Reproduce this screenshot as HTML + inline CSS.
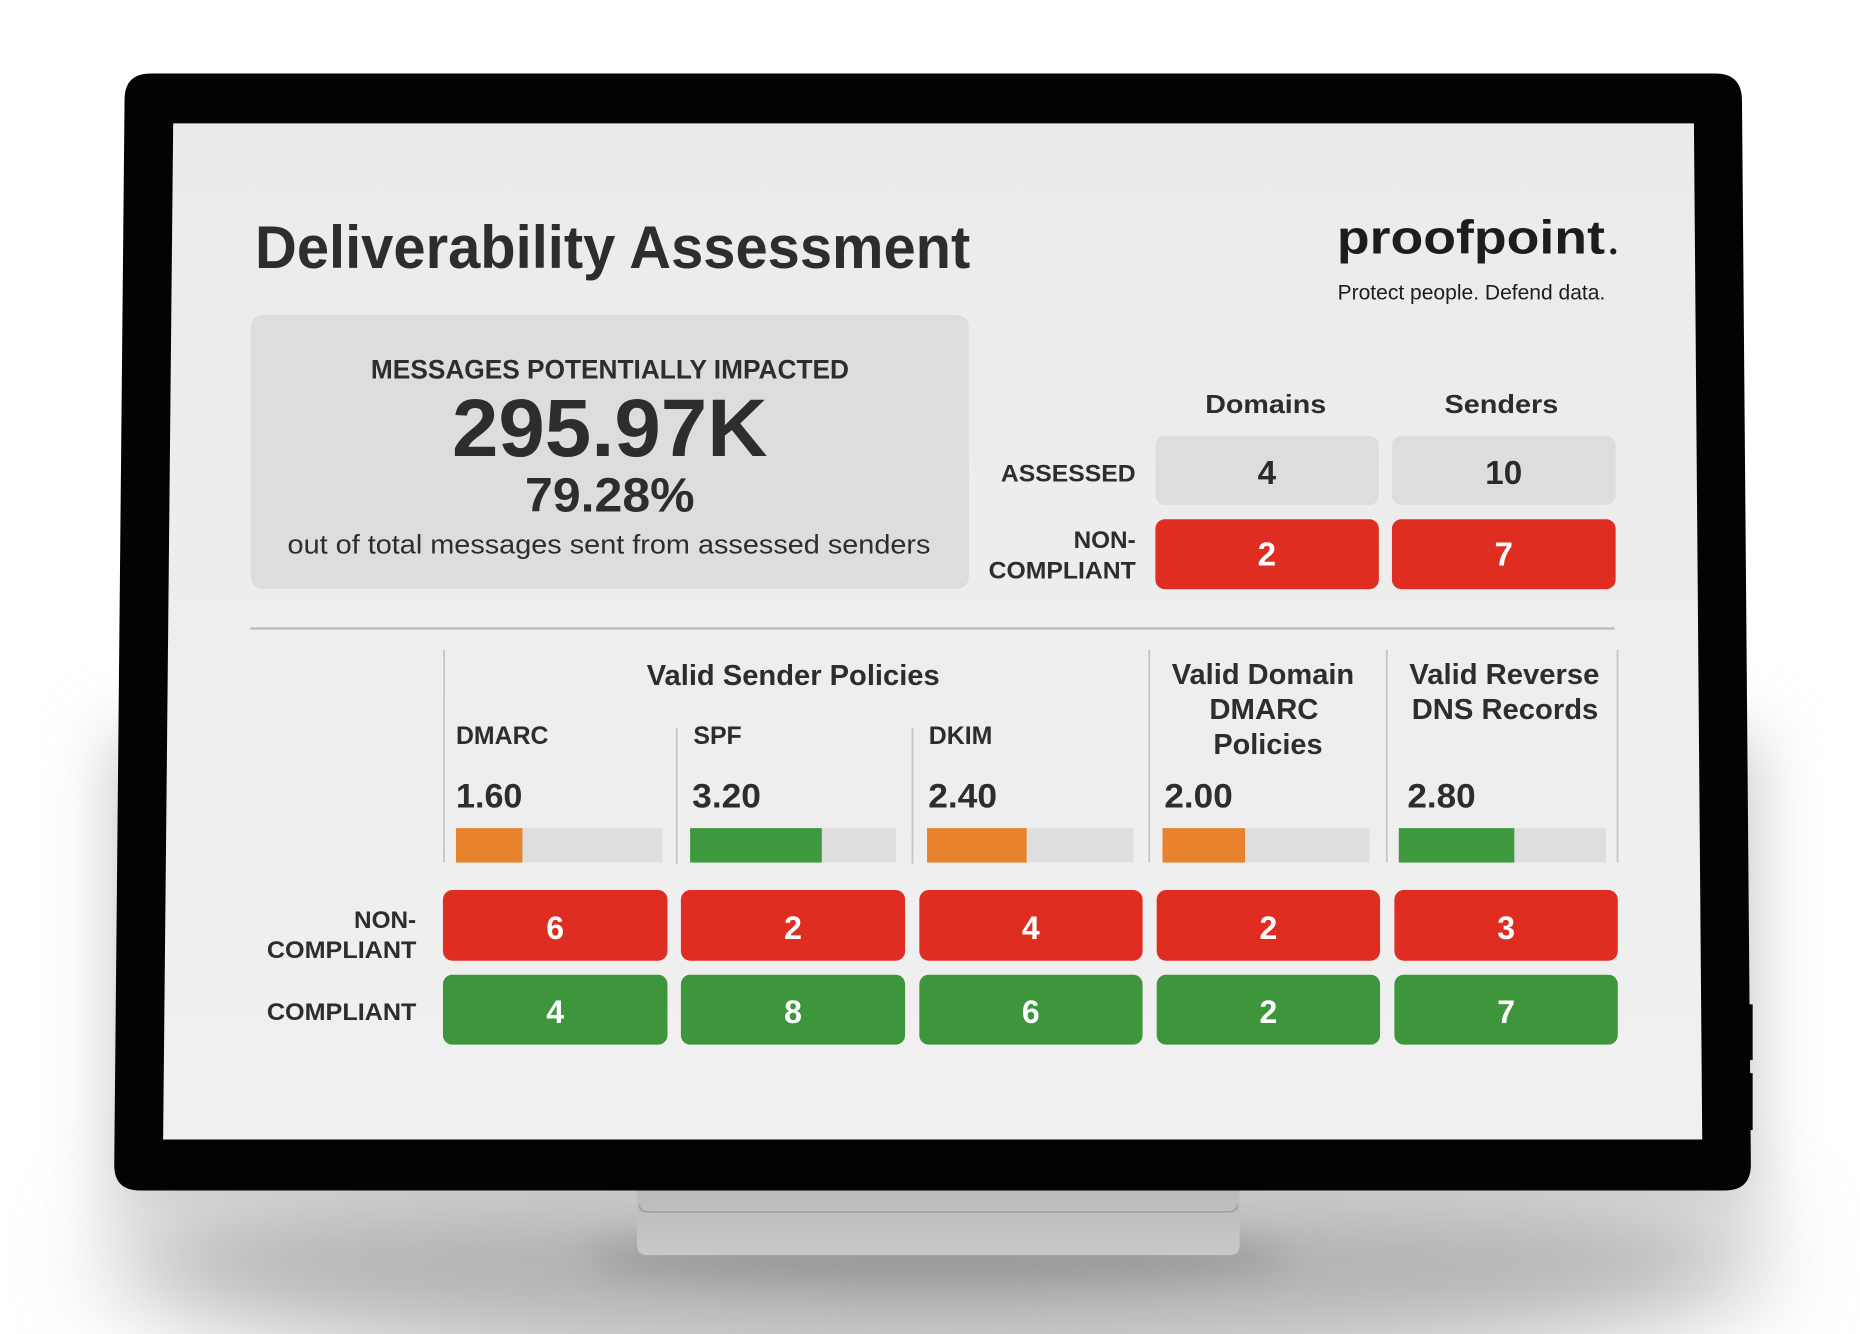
<!DOCTYPE html>
<html><head><meta charset="utf-8">
<style>
html,body{margin:0;padding:0;background:#fff;}
svg{display:block;}
text{font-family:"Liberation Sans",Arial,sans-serif;}
.b{font-weight:bold;}
</style></head><body>
<svg width="1860" height="1334" viewBox="0 0 1568 1125" preserveAspectRatio="none" xmlns="http://www.w3.org/2000/svg">
<defs>
<filter id="b1" x="-50%" y="-100%" width="200%" height="300%"><feGaussianBlur stdDeviation="40"/></filter>
<filter id="b2" x="-30%" y="-30%" width="160%" height="160%"><feGaussianBlur stdDeviation="28"/></filter>
<filter id="b3" x="-30%" y="-100%" width="160%" height="300%"><feGaussianBlur stdDeviation="14"/></filter>
<linearGradient id="stand" x1="0" y1="0" x2="0" y2="1"><stop offset="0" stop-color="#b8b9ba"/><stop offset="1" stop-color="#c7c8c9"/></linearGradient>
<linearGradient id="scr" x1="0" y1="0" x2="0" y2="1"><stop offset="0" stop-color="#ebebeb"/><stop offset="1" stop-color="#f0f0f0"/></linearGradient>
</defs>
<rect width="1568" height="1125" fill="#fff"/>
<!-- shadows -->
<ellipse cx="790" cy="1060" rx="700" ry="95" fill="#b4b4b4" filter="url(#b1)"/>
<rect x="95" y="620" width="1385" height="400" fill="#c9c9c9" filter="url(#b2)"/>
<ellipse cx="790" cy="1062" rx="300" ry="22" fill="#9a9a9a" filter="url(#b3)"/>
<!-- stand -->
<path d="M537 998 H1045 V1050 Q1045 1058.5 1036 1058.5 H546 Q537 1058.5 537 1050 Z" fill="url(#stand)"/>
<path d="M539 1016 Q539 1022 547 1022 H1035 Q1043 1022 1043 1016" fill="none" stroke="#9d9d9d" stroke-width="1.3"/>
<!-- bezel -->
<path d="M127 62 H1446 Q1468 62 1468.5 84 L1476 982 Q1476 1004 1454 1004 H118 Q96 1004 96.3 982 L105 84 Q105 62 127 62 Z" fill="#030303"/>
<rect x="1474" y="847" width="3.5" height="47" fill="#030303"/>
<rect x="1474" y="905" width="3.5" height="48" fill="#030303"/>
<!-- screen -->
<polygon points="146,104 1428,104 1435,961 137.5,961" fill="url(#scr)"/>

<!-- title -->
<text class="b" x="215" y="226" font-size="51" fill="#2d2d2d" textLength="603" lengthAdjust="spacingAndGlyphs">Deliverability Assessment</text>
<!-- logo -->
<text class="b" x="1127" y="214" font-size="40" fill="#1f1c1d" textLength="226" lengthAdjust="spacingAndGlyphs">proofpoint</text>
<circle cx="1360" cy="212" r="2.6" fill="#1f1c1d"/>
<text x="1127.6" y="252.4" font-size="18" fill="#1f1c1d" textLength="225.7" lengthAdjust="spacingAndGlyphs">Protect people. Defend data.</text>

<!-- impacted box -->
<rect x="211.4" y="265.6" width="605.3" height="231.1" rx="10" fill="#dddddd"/>
<text class="b" x="312.7" y="319" font-size="22.5" fill="#2d2d2d" textLength="403" lengthAdjust="spacingAndGlyphs">MESSAGES POTENTIALLY IMPACTED</text>
<text class="b" x="381" y="384.5" font-size="69" fill="#2d2d2d" textLength="266" lengthAdjust="spacingAndGlyphs">295.97K</text>
<text class="b" x="442.6" y="431.4" font-size="41" fill="#2d2d2d" textLength="143" lengthAdjust="spacingAndGlyphs">79.28%</text>
<text x="242.4" y="466.6" font-size="23" fill="#2d2d2d" textLength="542" lengthAdjust="spacingAndGlyphs">out of total messages sent from assessed senders</text>

<!-- right table -->
<text class="b" x="1016" y="348.5" font-size="22" fill="#2d2d2d" textLength="102" lengthAdjust="spacingAndGlyphs">Domains</text>
<text class="b" x="1217.7" y="348.5" font-size="22" fill="#2d2d2d" textLength="96" lengthAdjust="spacingAndGlyphs">Senders</text>
<text class="b" x="843.8" y="406" font-size="20.5" fill="#2d2d2d" textLength="113.6" lengthAdjust="spacingAndGlyphs">ASSESSED</text>
<text class="b" x="957.4" y="462.3" font-size="20.5" fill="#2d2d2d" text-anchor="end">NON-</text>
<text class="b" x="833.4" y="487.7" font-size="20.5" fill="#2d2d2d" textLength="124" lengthAdjust="spacingAndGlyphs">COMPLIANT</text>
<rect x="974" y="367.6" width="188.4" height="58.2" rx="8" fill="#dddddd"/>
<rect x="1173.4" y="367.6" width="188.6" height="58.2" rx="8" fill="#dddddd"/>
<rect x="974" y="437.9" width="188.4" height="59" rx="8" fill="#e02d22"/>
<rect x="1173.4" y="437.9" width="188.6" height="59" rx="8" fill="#e02d22"/>
<text class="b" x="1068" y="408" font-size="28" fill="#2b2b2b" text-anchor="middle">4</text>
<text class="b" x="1267.7" y="408" font-size="28" fill="#2b2b2b" text-anchor="middle">10</text>
<text class="b" x="1068" y="477" font-size="28" fill="#ffffff" text-anchor="middle">2</text>
<text class="b" x="1267.7" y="477" font-size="28" fill="#ffffff" text-anchor="middle">7</text>

<!-- rule -->
<line x1="211" y1="530" x2="1361" y2="530" stroke="#bdbdbd" stroke-width="2"/>

<!-- dividers -->
<g stroke="#c6c6c6" stroke-width="1.5">
<line x1="374.4" y1="548" x2="374.4" y2="727.4"/>
<line x1="570.5" y1="614" x2="570.5" y2="728.5"/>
<line x1="769.3" y1="614" x2="769.3" y2="728.5"/>
<line x1="968.8" y1="548" x2="968.8" y2="727.4"/>
<line x1="1169.1" y1="548" x2="1169.1" y2="727.4"/>
<line x1="1363.6" y1="548" x2="1363.6" y2="727.4"/>
</g>

<!-- headers -->
<text class="b" x="545.2" y="577.6" font-size="24.5" fill="#2d2d2d" textLength="247" lengthAdjust="spacingAndGlyphs">Valid Sender Policies</text>
<text class="b" x="987.8" y="577" font-size="24.5" fill="#2d2d2d" textLength="153.8" lengthAdjust="spacingAndGlyphs">Valid Domain</text>
<text class="b" x="1019.5" y="606.5" font-size="24.5" fill="#2d2d2d" textLength="92" lengthAdjust="spacingAndGlyphs">DMARC</text>
<text class="b" x="1022.9" y="636" font-size="24.5" fill="#2d2d2d" textLength="92" lengthAdjust="spacingAndGlyphs">Policies</text>
<text class="b" x="1188.1" y="577" font-size="24.5" fill="#2d2d2d" textLength="160.2" lengthAdjust="spacingAndGlyphs">Valid Reverse</text>
<text class="b" x="1190.1" y="606.5" font-size="24.5" fill="#2d2d2d" textLength="157.3" lengthAdjust="spacingAndGlyphs">DNS Records</text>

<text class="b" x="384.4" y="627.3" font-size="21" fill="#2d2d2d" textLength="78" lengthAdjust="spacingAndGlyphs">DMARC</text>
<text class="b" x="584.5" y="627.3" font-size="21" fill="#2d2d2d">SPF</text>
<text class="b" x="783" y="627.3" font-size="21" fill="#2d2d2d">DKIM</text>

<!-- values -->
<text class="b" x="384.4" y="681" font-size="29" fill="#2d2d2d" textLength="56" lengthAdjust="spacingAndGlyphs">1.60</text>
<text class="b" x="583.5" y="681" font-size="29" fill="#2d2d2d" textLength="58" lengthAdjust="spacingAndGlyphs">3.20</text>
<text class="b" x="782.5" y="681" font-size="29" fill="#2d2d2d" textLength="58" lengthAdjust="spacingAndGlyphs">2.40</text>
<text class="b" x="981.6" y="681" font-size="29" fill="#2d2d2d" textLength="57.6" lengthAdjust="spacingAndGlyphs">2.00</text>
<text class="b" x="1186.4" y="681" font-size="29" fill="#2d2d2d" textLength="57.6" lengthAdjust="spacingAndGlyphs">2.80</text>

<!-- bars -->
<rect x="384.4" y="698.4" width="174" height="29" fill="#dedede"/>
<rect x="384.4" y="698.4" width="56" height="29" fill="#e8822c"/>
<rect x="581.8" y="698.4" width="173.6" height="29" fill="#dedede"/>
<rect x="581.8" y="698.4" width="111" height="29" fill="#3e983d"/>
<rect x="781.5" y="698.4" width="174" height="29" fill="#dedede"/>
<rect x="781.5" y="698.4" width="84" height="29" fill="#e8822c"/>
<rect x="980" y="698.4" width="174.4" height="29" fill="#dedede"/>
<rect x="980" y="698.4" width="69.6" height="29" fill="#e8822c"/>
<rect x="1179.2" y="698.4" width="174.5" height="29" fill="#dedede"/>
<rect x="1179.2" y="698.4" width="97.4" height="29" fill="#3e983d"/>

<!-- row labels -->
<text class="b" x="350.8" y="782.7" font-size="20.5" fill="#2d2d2d" text-anchor="end">NON-</text>
<text class="b" x="225" y="808" font-size="20.5" fill="#2d2d2d" textLength="126" lengthAdjust="spacingAndGlyphs">COMPLIANT</text>
<text class="b" x="225" y="860" font-size="20.5" fill="#2d2d2d" textLength="126" lengthAdjust="spacingAndGlyphs">COMPLIANT</text>

<!-- red row -->
<g fill="#e02d22">
<rect x="373.4" y="750.6" width="189.3" height="59.6" rx="8"/>
<rect x="574" y="750.6" width="189" height="59.6" rx="8"/>
<rect x="775" y="750.6" width="188.2" height="59.6" rx="8"/>
<rect x="975.1" y="750.6" width="188.3" height="59.6" rx="8"/>
<rect x="1175.5" y="750.6" width="188.3" height="59.6" rx="8"/>
</g>
<!-- green row -->
<g fill="#3e963c">
<rect x="373.4" y="822" width="189.3" height="59" rx="8"/>
<rect x="574" y="822" width="189" height="59" rx="8"/>
<rect x="775" y="822" width="188.2" height="59" rx="8"/>
<rect x="975.1" y="822" width="188.3" height="59" rx="8"/>
<rect x="1175.5" y="822" width="188.3" height="59" rx="8"/>
</g>
<g class="b" font-size="27" fill="#ffffff" text-anchor="middle" font-weight="bold">
<text x="468" y="791.8">6</text>
<text x="668.5" y="791.8">2</text>
<text x="869" y="791.8">4</text>
<text x="1069.3" y="791.8">2</text>
<text x="1269.7" y="791.8">3</text>
<text x="468" y="862.9">4</text>
<text x="668.5" y="862.9">8</text>
<text x="869" y="862.9">6</text>
<text x="1069.3" y="862.9">2</text>
<text x="1269.7" y="862.9">7</text>
</g>
</svg>
</body></html>
